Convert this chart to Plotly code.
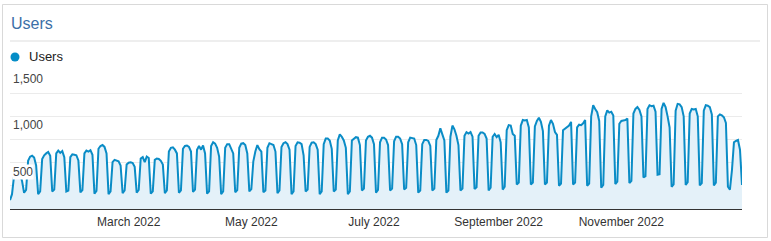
import pandas as pd
import plotly.graph_objects as go

# Daily users, 2022-01-01 (Sat) .. 2022-12-31; each row = Sat, Sun, Mon, Tue, Wed, Thu, Fri
users = [
    96, 160, 355, 385, 400, 380, 300,
    175, 205, 520, 565, 575, 555, 470,
    160, 190, 540, 580, 600, 615, 575,
    190, 210, 600, 630, 605, 625, 560,
    190, 200, 560, 590, 585, 580, 525,
    180, 205, 600, 630, 620, 635, 585,
    165, 195, 650, 680, 690, 670, 600,
    160, 190, 505, 530, 525, 515, 470,
    170, 200, 480, 500, 505, 495, 455,
    177, 205, 545, 560, 505, 565, 550,
    165, 190, 530, 545, 540, 520, 480,
    170, 200, 620, 660, 665, 640, 600,
    175, 200, 650, 680, 685, 670, 620,
    185, 210, 640, 680, 640, 685, 600,
    165, 190, 680, 720, 705, 660, 565,
    160, 190, 660, 700, 700, 650, 600,
    180, 205, 660, 705, 710, 690, 600,
    190, 215, 515, 620, 690, 645, 620,
    180, 200, 660, 710, 700, 690, 620,
    170, 200, 670, 710, 720, 700, 640,
    160, 190, 680, 720, 715, 700, 580,
    190, 210, 670, 715, 720, 700, 640,
    160, 190, 700, 760, 760, 740, 650,
    190, 210, 740, 805, 780, 740, 660,
    160, 190, 740, 760, 775, 770, 690,
    200, 220, 740, 780, 790, 770, 700,
    177, 205, 720, 770, 770, 750, 690,
    200, 220, 730, 780, 780, 760, 700,
    210, 230, 720, 770, 765, 760, 690,
    177, 200, 700, 745, 745, 735, 680,
    200, 220, 745, 790, 870, 800, 740,
    177, 200, 780, 900, 860, 790, 690,
    200, 220, 790, 830, 815, 830, 780,
    215, 235, 790, 825, 825, 810, 760,
    200, 230, 780, 810, 775, 800, 720,
    210, 240, 850, 905, 900, 810, 790,
    265, 285, 900, 960, 955, 960, 880,
    265, 285, 890, 950, 985, 940, 840,
    265, 285, 900, 960, 920, 830, 800,
    250, 275, 850, 870, 880, 900, 940,
    265, 285, 880, 910, 905, 925, 960,
    250, 275, 1000, 1120, 1080, 1045, 950,
    230, 260, 1000, 1065, 1040, 1050, 1010,
    270, 295, 920, 950, 955, 960, 975,
    280, 305, 1030, 1080, 1100, 1070, 1000,
    340, 355, 1080, 1120, 1110, 1115, 1050,
    370, 375, 1080, 1145, 1100, 1000, 880,
    240, 265, 1060, 1135, 1130, 1100, 1000,
    260, 290, 1030, 1080, 1075, 1080, 1000,
    255, 280, 1060, 1120, 1115, 1100, 1020,
    255, 285, 1000, 1020, 1010, 990, 930,
    240, 210, 420, 720, 735, 745, 640,
    260,
]
dates = pd.date_range("2022-01-01", periods=len(users), freq="D")

month_ticks = ["2022-03-01", "2022-05-01", "2022-07-01", "2022-09-01", "2022-11-01"]
month_labels = ["March 2022", "May 2022", "July 2022", "September 2022", "November 2022"]
y_grid = [0, 250, 500, 750, 1000, 1250, 1500]
y_label_vals = [500, 1000, 1500]
y_label_text = ["500", "1,000", "1,500"]

FONT = "Liberation Sans, Arial, sans-serif"
W, H = 771, 241
ml, mr, mt, mb = 10, 29, 70, 32
pw, ph = W - ml - mr, H - mt - mb

def px(x):
    return (x - ml) / pw

def py(y):
    return (H - mb - y) / ph

fig = go.Figure()
fig.add_trace(go.Scatter(
    x=dates, y=users, mode="lines",
    line=dict(color="#0a8cc6", width=2),
    fill="tozeroy", fillcolor="#e4f1f9",
    hoverinfo="skip", showlegend=False,
))

annotations = [
    dict(text="Users", xref="paper", yref="paper", x=px(9), y=py(23),
         xanchor="left", yanchor="middle", showarrow=False,
         font=dict(family=FONT, size=16, color="#3b6fa7")),
    dict(text="Users", xref="paper", yref="paper", x=px(27), y=py(57),
         xanchor="left", yanchor="middle", showarrow=False,
         font=dict(family=FONT, size=13, color="#222222")),
]
for v, t in zip(y_label_vals, y_label_text):
    annotations.append(dict(
        text=t, xref="paper", yref="y", x=0, y=v, xanchor="left", yanchor="middle",
        xshift=2, yshift=-9, showarrow=False, bgcolor="white", borderpad=0,
        font=dict(family=FONT, size=12, color="#444444")))

shapes = [
    dict(type="rect", xref="paper", yref="paper", x0=px(2.5), x1=px(767.5),
         y0=py(237.5), y1=py(4.5), line=dict(color="#d9d9d9", width=1),
         fillcolor="rgba(0,0,0,0)", layer="below"),
    dict(type="line", xref="paper", yref="paper", x0=px(10), x1=px(760),
         y0=py(41), y1=py(41), line=dict(color="#dddddd", width=1)),
    dict(type="circle", xref="paper", yref="paper", x0=px(10.5), x1=px(19.5),
         y0=py(61.5), y1=py(52.5), line=dict(width=0), fillcolor="#058dc7"),
]

fig.update_layout(
    width=W, height=H, margin=dict(l=ml, r=mr, t=mt, b=mb),
    paper_bgcolor="white", plot_bgcolor="white",
    font=dict(family=FONT, size=12, color="#333333"),
    annotations=annotations, shapes=shapes,
    xaxis=dict(type="date", range=["2022-01-01", "2022-12-31"],
               tickvals=month_ticks, ticktext=month_labels,
               showgrid=False, zeroline=False, showline=True,
               linecolor="#333333", linewidth=1, ticks="",
               ticklabelstandoff=2,
               tickfont=dict(family=FONT, size=12, color="#333333")),
    yaxis=dict(range=[0, 1500], tickvals=y_grid, showticklabels=False,
               showgrid=True, gridcolor="#ebebeb", gridwidth=1,
               zeroline=False, showline=False, ticks=""),
)

fig.write_html("out.html")
